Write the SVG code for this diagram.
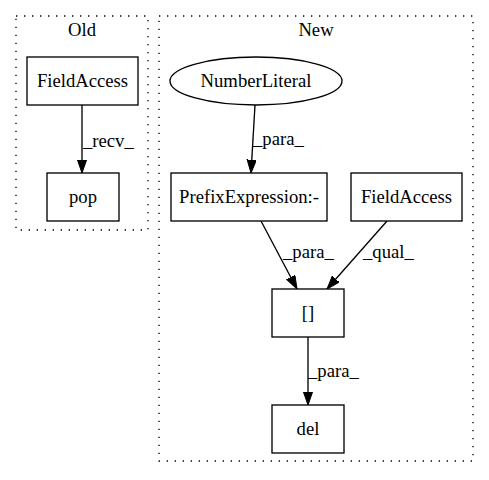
<svg xmlns="http://www.w3.org/2000/svg" width="489" height="480" viewBox="0 0 489 480">
  <style>
    text { font-family: "Liberation Serif", "Times New Roman", serif; font-size: 18.67px; fill: #000; }
    .lbl { text-anchor: middle; }
    .elbl { text-anchor: start; }
    .cluster { fill: none; stroke: #000; stroke-width: 1.33; stroke-dasharray: 1.33,6.67; }
    .node { fill: #fff; stroke: #000; stroke-width: 1.33; }
    .edge { fill: none; stroke: #000; stroke-width: 1.33; marker-end: url(#arrow); }
  </style>
  <defs>
    <marker id="arrow" markerUnits="userSpaceOnUse" markerWidth="14" markerHeight="10" refX="13.3" refY="4.67" orient="auto">
      <path d="M0,0 L13.3,4.67 L0,9.33 Z" fill="#000" stroke="#000" stroke-width="1"/>
    </marker>
  </defs>
  <rect width="489" height="480" fill="#fff"/>

  <!-- clusters -->
  <g id="cluster_old">
    <rect class="cluster" x="16" y="16" width="132" height="214"/>
    <text class="lbl" x="82" y="36">Old</text>
  </g>
  <g id="cluster_new">
    <rect class="cluster" x="159" y="16" width="314" height="445"/>
    <text class="lbl" x="316" y="36">New</text>
  </g>

  <!-- connectors -->
  <g id="edges">
    <line class="edge" x1="82" y1="105" x2="82" y2="173"/>
    <text class="elbl" x="83" y="147">_recv_</text>

    <line class="edge" x1="255" y1="105" x2="251" y2="173"/>
    <text class="elbl" x="253" y="145">_para_</text>

    <line class="edge" x1="261" y1="221" x2="297" y2="289"/>
    <text class="elbl" x="283" y="258">_para_</text>

    <line class="edge" x1="387" y1="221" x2="327" y2="289"/>
    <text class="elbl" x="363" y="258">_qual_</text>

    <line class="edge" x1="308" y1="337" x2="308" y2="405"/>
    <text class="elbl" x="308" y="377">_para_</text>
  </g>

  <!-- nodes -->
  <g id="old_fieldaccess">
    <rect class="node" x="27" y="57" width="111" height="48"/>
    <text class="lbl" x="82.5" y="87">FieldAccess</text>
  </g>
  <g id="old_pop">
    <rect class="node" x="47" y="173" width="72" height="48"/>
    <text class="lbl" x="83" y="203">pop</text>
  </g>
  <g id="new_numberliteral">
    <ellipse class="node" cx="256" cy="81" rx="86" ry="24"/>
    <text class="lbl" x="256" y="87">NumberLiteral</text>
  </g>
  <g id="new_prefixexpression">
    <rect class="node" x="171" y="173" width="156" height="48"/>
    <text class="lbl" x="249" y="203">PrefixExpression:-</text>
  </g>
  <g id="new_fieldaccess">
    <rect class="node" x="351" y="173" width="111" height="48"/>
    <text class="lbl" x="406.5" y="203">FieldAccess</text>
  </g>
  <g id="new_index">
    <rect class="node" x="272" y="289" width="72" height="48"/>
    <text class="lbl" x="308" y="319">[]</text>
  </g>
  <g id="new_del">
    <rect class="node" x="272" y="405" width="72" height="48"/>
    <text class="lbl" x="308" y="435">del</text>
  </g>
</svg>
